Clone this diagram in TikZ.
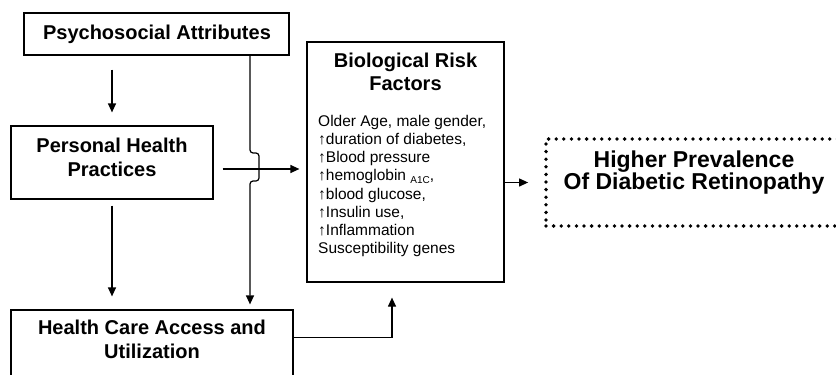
\documentclass[tikz,border=0pt]{standalone}
\usepackage{fontspec}
\setmainfont{Liberation Sans}
\usetikzlibrary{arrows.meta,calc}
\tikzset{
  box/.style={draw=black, line width=1.2pt, inner sep=0pt},
  titletext/.style={align=center, font=\bfseries\fontsize{20}{23.5}\selectfont, inner sep=0pt},
  bodytext/.style={align=left, font=\fontsize{15.5}{18.2}\selectfont, inner sep=0pt},
  arr/.style={line width=1.2pt, -{Triangle[length=9pt,width=8pt]}},
  dotbox/.style={draw=black, line width=3.8pt, line cap=round, dash pattern=on 0pt off 7.6pt, inner sep=0pt}
}
\begin{document}
\begin{tikzpicture}[x=1pt,y=-1pt]
\useasboundingbox (0,0) rectangle (836,375);
% boxes
\node[box, minimum width=265pt, minimum height=42pt] (psych) at (156.5,34) {};
\node[titletext] (psychtxt) at (157,34) {Psychosocial Attributes};
\node[box, minimum width=202pt, minimum height=73pt] (personal) at (112,162.5) {};
\node[titletext] (personaltxt) at (112,157.5) {Personal Health\\Practices};
\node[box, minimum width=282pt, minimum height=80pt] (health) at (152,350) {};
\node[titletext] (healthtxt) at (152,339.5) {Health Care Access and\\Utilization};
\node[box, minimum width=197pt, minimum height=240pt] (bio) at (405.5,162) {};
\node[titletext] (biotitle) at (405.5,72) {Biological Risk\\Factors};
\node[bodytext, anchor=west] (biobody) at (318,186) {Older Age, male gender,\\%
↑duration of diabetes,\\%
↑Blood pressure\\%
↑hemoglobin \raisebox{-2.5pt}{\fontsize{10}{10}\selectfont A1C},\\%
↑blood glucose,\\%
↑Insulin use,\\%
↑Inflammation\\%
Susceptibility genes};
\node[dotbox, minimum width=296pt, minimum height=87pt] (higher) at (694,182.5) {};
\node[titletext, font=\bfseries\fontsize{23}{22}\selectfont] (highertxt) at (694,173) {Higher Prevalence\\Of Diabetic Retinopathy};
% connectors
\coordinate (hop) at (250,169);
\draw[arr, shorten <=14pt, shorten >=13pt] (psych.south -| personal.north) -- (personal.north);
\draw[arr, shorten <=6pt, shorten >=13pt] (personal.south) -- (personal.south |- health.north);
\draw[arr, rounded corners=3pt, shorten >=5pt] (psych.south -| hop) -- ($(hop)+(0,-16)$) -- ($(hop)+(9,-16)$) -- ($(hop)+(9,12)$) -- ($(hop)+(0,12)$) -- (hop |- health.north);
\draw[arr, shorten <=9pt, shorten >=7pt] (personal.east |- hop) -- (bio.west |- hop);
\draw[arr, shorten >=16pt] (higher.west -| bio.east) -- (higher.west);
\draw[arr, shorten >=15pt] ($(health.north east)+(0,28)$) -| ($(bio.south)+(-13.5,0)$);
\end{tikzpicture}
\end{document}
